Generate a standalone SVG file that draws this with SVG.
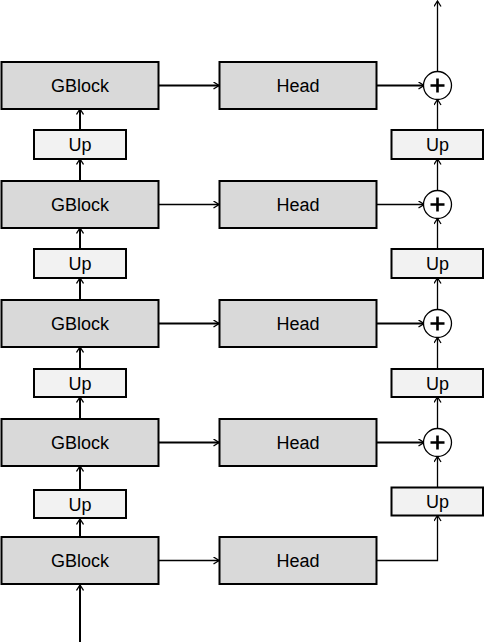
<svg xmlns="http://www.w3.org/2000/svg" width="484" height="642" viewBox="0 0 484 642">
<style>
.blk{fill:#d9d9d9;stroke:#000;stroke-width:2}
.up{fill:#f2f2f2;stroke:#000;stroke-width:2}
.t{font-family:"Liberation Sans",Arial,sans-serif;font-size:18px;fill:#000;text-anchor:middle}
.thick{fill:none;stroke:#000;stroke-width:2}
.thin{fill:none;stroke:#000;stroke-width:1.3}
.sum{fill:#fff;stroke:#000;stroke-width:1.3}
.plus{stroke:#000;stroke-width:2.6;fill:none}
</style>
<defs>
<marker id="ah" viewBox="-7 -4 8 8" refX="0" refY="0" markerWidth="8" markerHeight="8" markerUnits="userSpaceOnUse" orient="auto">
<path d="M-5.5,-3.5 L0,0 L-5.5,3.5" fill="none" stroke="#000" stroke-width="1.3"/>
</marker>
</defs>
<g id="connectors">
<!-- input -->
<line class="thick" x1="80" y1="642" x2="80" y2="585" marker-end="url(#ah)"/>
<!-- left vertical chain -->
<line class="thick" x1="80" y1="537" x2="80" y2="519" marker-end="url(#ah)"/>
<line class="thick" x1="80" y1="490" x2="80" y2="466" marker-end="url(#ah)"/>
<line class="thick" x1="80" y1="419" x2="80" y2="397" marker-end="url(#ah)"/>
<line class="thick" x1="80" y1="369" x2="80" y2="347" marker-end="url(#ah)"/>
<line class="thick" x1="80" y1="300" x2="80" y2="278" marker-end="url(#ah)"/>
<line class="thick" x1="80" y1="249" x2="80" y2="228" marker-end="url(#ah)"/>
<line class="thick" x1="80" y1="181" x2="80" y2="159" marker-end="url(#ah)"/>
<line class="thick" x1="80" y1="130" x2="80" y2="109" marker-end="url(#ah)"/>
<!-- GBlock to Head -->
<line class="thick" x1="159" y1="85.5" x2="219" y2="85.5" marker-end="url(#ah)"/>
<line class="thin" x1="159" y1="204.5" x2="219" y2="204.5" marker-end="url(#ah)"/>
<line class="thick" x1="159" y1="323.5" x2="219" y2="323.5" marker-end="url(#ah)"/>
<line class="thick" x1="159" y1="442.5" x2="219" y2="442.5" marker-end="url(#ah)"/>
<line class="thin" x1="159" y1="560.5" x2="219" y2="560.5" marker-end="url(#ah)"/>
<!-- Head to sum -->
<line class="thick" x1="376.5" y1="85.5" x2="424" y2="85.5" marker-end="url(#ah)"/>
<line class="thin" x1="376.5" y1="204.5" x2="424" y2="204.5" marker-end="url(#ah)"/>
<line class="thick" x1="376.5" y1="323.5" x2="424" y2="323.5" marker-end="url(#ah)"/>
<line class="thick" x1="376.5" y1="442.5" x2="424" y2="442.5" marker-end="url(#ah)"/>
<polyline class="thin" points="376.5,560.5 437.5,560.5 437.5,515.5" marker-end="url(#ah)"/>
<!-- right vertical chain -->
<line class="thin" x1="437.5" y1="487.5" x2="437.5" y2="456.5" marker-end="url(#ah)"/>
<line class="thin" x1="437.5" y1="428.5" x2="437.5" y2="397" marker-end="url(#ah)"/>
<line class="thin" x1="437.5" y1="369" x2="437.5" y2="337.5" marker-end="url(#ah)"/>
<line class="thin" x1="437.5" y1="309.5" x2="437.5" y2="278" marker-end="url(#ah)"/>
<line class="thin" x1="437.5" y1="249" x2="437.5" y2="218.5" marker-end="url(#ah)"/>
<line class="thin" x1="437.5" y1="190.5" x2="437.5" y2="159" marker-end="url(#ah)"/>
<line class="thin" x1="437.5" y1="130" x2="437.5" y2="99.5" marker-end="url(#ah)"/>
<line class="thin" x1="437.5" y1="71.5" x2="437.5" y2="1" marker-end="url(#ah)"/>
</g>
<g id="gblock1"><rect class="blk" x="1.5" y="62" width="157" height="47"/><text class="t" x="80" y="92">GBlock</text></g>
<g id="gblock2"><rect class="blk" x="1.5" y="181" width="157" height="47"/><text class="t" x="80" y="211">GBlock</text></g>
<g id="gblock3"><rect class="blk" x="1.5" y="300" width="157" height="47"/><text class="t" x="80" y="330">GBlock</text></g>
<g id="gblock4"><rect class="blk" x="1.5" y="419" width="157" height="47"/><text class="t" x="80" y="449">GBlock</text></g>
<g id="gblock5"><rect class="blk" x="1.5" y="537" width="157" height="47"/><text class="t" x="80" y="567">GBlock</text></g>
<g id="head1"><rect class="blk" x="219.5" y="62" width="157" height="47"/><text class="t" x="298" y="92">Head</text></g>
<g id="head2"><rect class="blk" x="219.5" y="181" width="157" height="47"/><text class="t" x="298" y="211">Head</text></g>
<g id="head3"><rect class="blk" x="219.5" y="300" width="157" height="47"/><text class="t" x="298" y="330">Head</text></g>
<g id="head4"><rect class="blk" x="219.5" y="419" width="157" height="47"/><text class="t" x="298" y="449">Head</text></g>
<g id="head5"><rect class="blk" x="219.5" y="537" width="157" height="47"/><text class="t" x="298" y="567">Head</text></g>
<g id="upL1"><rect class="up" x="34" y="130" width="92" height="29"/><text class="t" x="80" y="151">Up</text></g>
<g id="upL2"><rect class="up" x="34" y="249" width="92" height="29"/><text class="t" x="80" y="270">Up</text></g>
<g id="upL3"><rect class="up" x="34" y="369" width="92" height="28"/><text class="t" x="80" y="389.5">Up</text></g>
<g id="upL4"><rect class="up" x="34" y="490" width="92" height="28"/><text class="t" x="80" y="510.5">Up</text></g>
<g id="upR1"><rect class="up" x="391.5" y="130" width="91.5" height="29"/><text class="t" x="437.5" y="151">Up</text></g>
<g id="upR2"><rect class="up" x="391.5" y="249" width="91.5" height="29"/><text class="t" x="437.5" y="270">Up</text></g>
<g id="upR3"><rect class="up" x="391.5" y="369" width="91.5" height="28"/><text class="t" x="437.5" y="389.5">Up</text></g>
<g id="upR4"><rect class="up" x="391.5" y="487.5" width="91.5" height="28"/><text class="t" x="437.5" y="508">Up</text></g>
<g id="sum1"><circle class="sum" cx="437.5" cy="85.5" r="14"/><path class="plus" d="M430.5,85.5 H444.5 M437.5,78.5 V92.5"/></g>
<g id="sum2"><circle class="sum" cx="437.5" cy="204.5" r="14"/><path class="plus" d="M430.5,204.5 H444.5 M437.5,197.5 V211.5"/></g>
<g id="sum3"><circle class="sum" cx="437.5" cy="323.5" r="14"/><path class="plus" d="M430.5,323.5 H444.5 M437.5,316.5 V330.5"/></g>
<g id="sum4"><circle class="sum" cx="437.5" cy="442.5" r="14"/><path class="plus" d="M430.5,442.5 H444.5 M437.5,435.5 V449.5"/></g>
</svg>
